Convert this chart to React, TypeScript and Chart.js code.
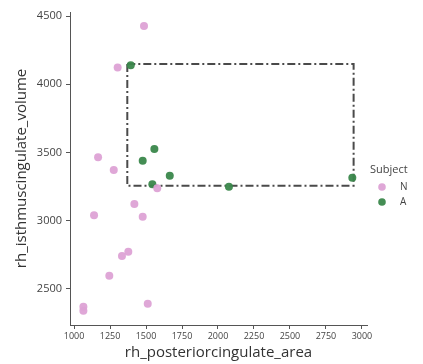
import React, { useEffect, useRef } from "react";
import { Chart, registerables } from "chart.js";

Chart.register(...registerables);

const nArea = [1486, 1303, 1167, 1276, 1578, 1419, 1139, 1477, 1377, 1333, 1245, 1512, 1065, 1065];
const nVolume = [4427, 4124, 3465, 3372, 3238, 3123, 3040, 3030, 2773, 2742, 2597, 2392, 2370, 2341];

const aArea = [1394, 1558, 1477, 1665, 1544, 2076, 2933];
const aVolume = [4139, 3526, 3440, 3330, 3267, 3250, 3315];

const boxX = [1370, 2942, 2942, 1370, 1370];
const boxY = [4148, 4148, 3257, 3257, 4148];

const xTicks = [1000, 1250, 1500, 1750, 2000, 2250, 2500, 2750, 3000];
const yTicks = [2500, 3000, 3500, 4000, 4500];

const seriesNames = ["N", "A"];
const legendTitle = "Subject";
const xTitle = "rh_posteriorcingulate_area";
const yTitle = "rh_isthmuscingulate_volume";

const PINK = "rgba(221,162,213,0.95)";
const GREEN = "rgba(58,135,75,0.95)";
const FONT = "'Open Sans', 'Noto Sans', sans-serif";

export default function App() {
  const ref = useRef<HTMLCanvasElement | null>(null);
  useEffect(() => {
    if (!ref.current) return;
    const legendPlugin = {
      id: "customLegend",
      afterDraw(chart: any) {
        const ctx = chart.ctx as CanvasRenderingContext2D;
        ctx.save();
        ctx.fillStyle = "#444";
        ctx.textBaseline = "middle";
        ctx.textAlign = "left";
        ctx.font = `11px ${FONT}`;
        ctx.fillText(legendTitle, 370, 170);
        const colors = [PINK, GREEN];
        seriesNames.forEach((name, i) => {
          const y = 187 + i * 15;
          ctx.beginPath();
          ctx.fillStyle = colors[i];
          ctx.arc(382, y, 3.8, 0, Math.PI * 2);
          ctx.fill();
          ctx.fillStyle = "#444";
          ctx.font = `10px ${FONT}`;
          ctx.fillText(name, 400, y);
        });
        ctx.restore();
      },
    };
    const chart = new Chart(ref.current, {
      type: "scatter",
      data: {
        datasets: [
          {
            label: seriesNames[0],
            data: nArea.map((x, i) => ({ x, y: nVolume[i] })),
            backgroundColor: PINK,
            borderColor: PINK,
            pointRadius: 4,
            borderWidth: 0,
          },
          {
            label: seriesNames[1],
            data: aArea.map((x, i) => ({ x, y: aVolume[i] })),
            backgroundColor: GREEN,
            borderColor: GREEN,
            pointRadius: 4,
            borderWidth: 0,
          },
          {
            label: "box",
            data: boxX.map((x, i) => ({ x, y: boxY[i] })),
            showLine: true,
            pointRadius: 0,
            borderColor: "#4a4a4a",
            borderWidth: 2,
            borderDash: [8, 3, 2, 3],
            fill: false,
          } as any,
        ],
      },
      options: {
        animation: false,
        responsive: false,
        devicePixelRatio: 1,
        layout: { padding: { left: 0, right: 56, top: 12, bottom: 0 } },
        plugins: { legend: { display: false }, tooltip: { enabled: false } },
        scales: {
          x: {
            type: "linear",
            min: 972,
            max: 3035,
            afterBuildTicks: (s: any) => {
              s.ticks = xTicks.map((v) => ({ value: v }));
            },
            afterFit: (s: any) => {
              s.height = 39;
            },
            grid: { drawOnChartArea: false, drawTicks: true, tickLength: 4, color: "#555" },
            border: { display: true, color: "#555", width: 1 },
            ticks: {
              color: "#444",
              font: { family: FONT, size: 9 },
              padding: 2,
              maxRotation: 0,
              autoSkip: false,
              callback: (v: any) => String(v),
            },
            title: {
              display: true,
              text: xTitle,
              color: "#333",
              font: { family: FONT, size: 15, lineHeight: 1.2 },
              padding: { top: 0, bottom: 2 },
            },
          },
          y: {
            type: "linear",
            min: 2236,
            max: 4530,
            afterBuildTicks: (s: any) => {
              s.ticks = yTicks.map((v) => ({ value: v }));
            },
            afterFit: (s: any) => {
              s.width = 70;
            },
            grid: { drawOnChartArea: false, drawTicks: true, tickLength: 4, color: "#555" },
            border: { display: true, color: "#555", width: 1 },
            ticks: {
              color: "#444",
              font: { family: FONT, size: 11 },
              padding: 4,
              autoSkip: false,
              callback: (v: any) => String(v),
            },
            title: {
              display: true,
              text: yTitle,
              color: "#333",
              font: { family: FONT, size: 15, lineHeight: 1.2 },
              padding: { top: 13, bottom: 0 },
            },
          },
        },
      },
      plugins: [legendPlugin],
    });
    return () => chart.destroy();
  }, []);
  return (
    <div style={{ position: "fixed", left: 0, top: 0, width: 423, height: 364, background: "#fff" }}>
      <canvas ref={ref} width={423} height={364} style={{ width: 423, height: 364 }} />
    </div>
  );
}
